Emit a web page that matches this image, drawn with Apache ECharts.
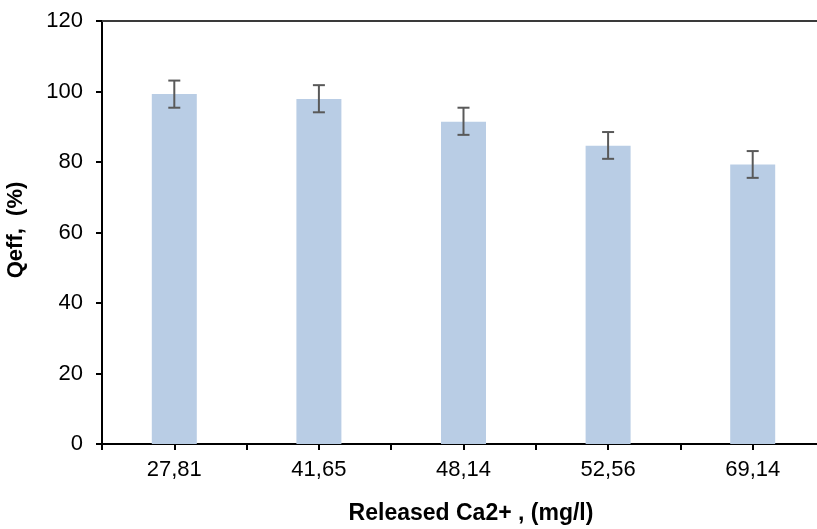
<!DOCTYPE html>
<html><head><meta charset="utf-8">
<script src="https://cdn.jsdelivr.net/npm/echarts@6/dist/echarts.min.js"></script>
<style>html,body{margin:0;padding:0;background:#fff}#c{width:817px;height:529px}</style>
</head><body><div id="c"></div>
<script>
var categories = ['27,81', '41,65', '48,14', '52,56', '69,14'];
var qeff = [99.3, 97.9, 91.4, 84.6, 79.3];
var errLow = [95.4, 94.1, 87.7, 80.9, 75.5];
var errHigh = [103.1, 101.8, 95.4, 88.5, 83.1];
var yTicks = [0, 20, 40, 60, 80, 100, 120];

var FONT = '"Liberation Sans", Arial, sans-serif';
var chart = echarts.init(document.getElementById('c'), null, {renderer: 'canvas'});

var barData = categories.map(function (c, i) { return [i + 0.5, qeff[i]]; });
var errData = categories.map(function (c, i) { return [i + 0.5, errLow[i], errHigh[i]]; });

chart.setOption({
  animation: false,
  backgroundColor: '#fff',
  grid: {left: 102, width: 723, top: 21, height: 423, containLabel: false, outerBoundsMode: 'none'},
  xAxis: [{
    type: 'value', min: 0, max: categories.length, interval: 0.5,
    position: 'bottom',
    axisLine: {show: true, lineStyle: {color: '#000', width: 2}},
    axisTick: {show: true, inside: false, length: 6, lineStyle: {color: '#000', width: 2}},
    splitLine: {show: false},
    axisLabel: {
      color: '#000', fontFamily: FONT, fontSize: 22, margin: 15,
      formatter: function (v) {
        var k = v - 0.5;
        if (Math.abs(k - Math.round(k)) < 1e-6 && categories[Math.round(k)] !== undefined) return categories[Math.round(k)];
        return '';
      }
    }
  }, {
    type: 'value', min: 0, max: categories.length, position: 'top',
    axisLine: {show: true, lineStyle: {color: '#3a3a3a', width: 2}},
    axisTick: {show: false}, axisLabel: {show: false}, splitLine: {show: false}
  }],
  yAxis: {
    type: 'value', min: yTicks[0], max: yTicks[yTicks.length - 1], interval: 20,
    axisLine: {show: true, lineStyle: {color: '#000', width: 2}},
    axisTick: {show: true, inside: false, length: 6, lineStyle: {color: '#000', width: 2}},
    splitLine: {show: false},
    axisLabel: {color: '#000', fontFamily: FONT, fontSize: 22, margin: 19}
  },
  graphic: [{
    type: 'text', x: 471, y: 525,
    style: {text: 'Released Ca2+ , (mg/l)', font: 'bold 23px ' + FONT, fill: '#000', textAlign: 'center', textVerticalAlign: 'bottom'}
  }, {
    type: 'text', rotation: Math.PI / 2,
    x: 16, y: 230,
    style: {text: 'Qeff,  (%)', font: 'bold 22px ' + FONT, fill: '#000', textAlign: 'center', textVerticalAlign: 'middle'}
  }],
  series: [{
    type: 'bar', data: barData, barWidth: 45,
    itemStyle: {color: '#b9cde5'}
  }, {
    type: 'custom', data: errData, z: 5,
    renderItem: function (params, api) {
      var x = api.value(0);
      var lo = api.coord([x, api.value(1)]);
      var hi = api.coord([x, api.value(2)]);
      var hw = 6;
      var st = {stroke: '#595959', lineWidth: 2};
      return {type: 'group', children: [
        {type: 'line', shape: {x1: lo[0], y1: lo[1], x2: hi[0], y2: hi[1]}, style: st},
        {type: 'line', shape: {x1: lo[0] - hw, y1: lo[1], x2: lo[0] + hw, y2: lo[1]}, style: st},
        {type: 'line', shape: {x1: hi[0] - hw, y1: hi[1], x2: hi[0] + hw, y2: hi[1]}, style: st}
      ]};
    }
  }]
});
</script></body></html>
